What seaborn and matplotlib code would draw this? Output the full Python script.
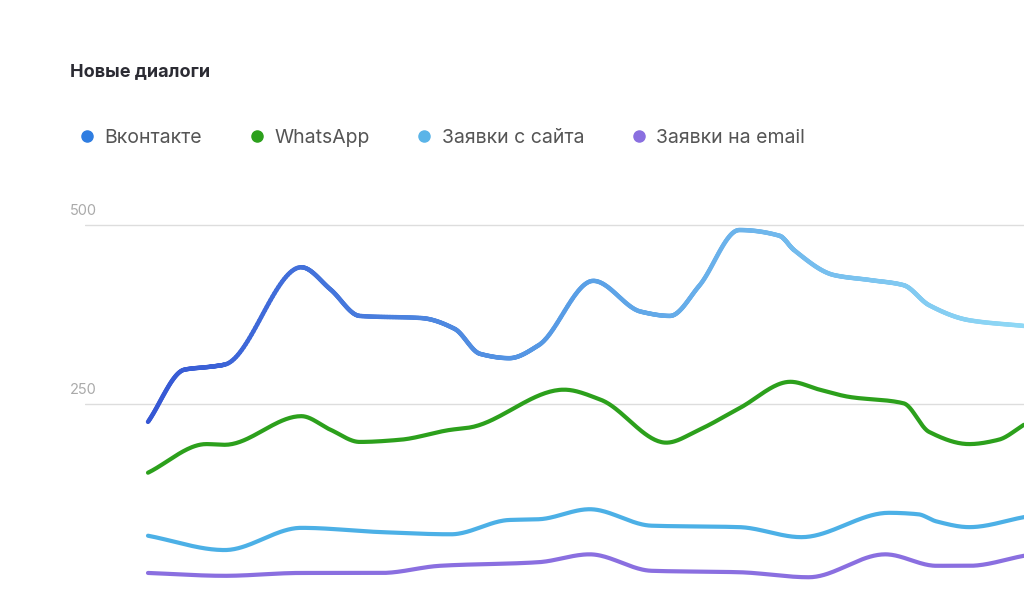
import numpy as np
import pandas as pd
import matplotlib
matplotlib.use("Agg")
import matplotlib.pyplot as plt
import seaborn as sns
from matplotlib.collections import LineCollection
from matplotlib.lines import Line2D

title = "Новые диалоги"
series_names = ["Вконтакте", "WhatsApp", "Заявки с сайта", "Заявки на email"]
dot_colors = ["#2f7de1", "#2ca01c", "#5ab4e8", "#8a6fe0"]
yticks = [250, 500]

vk_x = [0, 1.0, 1.7, 2.1, 4.2, 5.0, 5.8, 7.5, 8.4, 9.1, 9.9, 10.7, 12.2, 13.5, 14.3, 15.1, 16.2, 17.3, 17.7, 18.8, 19.8, 20.7, 21.4, 22.5, 24.0]
vk_y = [225, 298, 302, 305, 441, 410, 373, 370, 355, 320, 314, 332, 422, 379, 373, 415, 493, 485, 465, 430, 423, 416, 388, 367, 359]
wa_x = [0, 1.6, 2.1, 4.2, 5.0, 5.8, 6.9, 8.3, 8.8, 11.4, 12.4, 14.2, 15.1, 16.2, 17.6, 18.4, 19.2, 20.7, 21.4, 22.5, 23.3, 24.0]
wa_y = [154, 194, 193, 233, 214, 197, 200, 214, 217, 270, 256, 196, 214, 244, 281, 270, 260, 251, 211, 194, 200, 221]
site_x = [0, 2.1, 4.2, 6.4, 8.3, 9.9, 10.7, 12.1, 13.8, 16.2, 17.9, 20.3, 21.1, 21.6, 22.5, 24.0]
site_y = [66, 46, 77, 71, 68, 88, 89, 103, 80, 78, 64, 98, 96, 86, 78, 92]
mail_x = [0, 2.1, 4.2, 6.4, 8.0, 10.7, 12.1, 13.8, 16.2, 18.1, 20.2, 21.6, 22.5, 24.0]
mail_y = [14, 10, 14, 14, 24, 29, 40, 17, 15, 8, 40, 24, 24, 38]


def smooth(x, y, n=40):
    x = np.asarray(x, float); y = np.asarray(y, float)
    h = np.diff(x); d = np.diff(y) / h
    m = np.zeros_like(y)
    m[0], m[-1] = d[0], d[-1]
    for i in range(1, len(y) - 1):
        if d[i - 1] * d[i] <= 0:
            m[i] = 0
        else:
            w1 = 2 * h[i] + h[i - 1]; w2 = h[i] + 2 * h[i - 1]
            m[i] = (w1 + w2) / (w1 / d[i - 1] + w2 / d[i])
    xs, ys = [], []
    for i in range(len(h)):
        t = np.linspace(0, 1, n, endpoint=False)
        h00 = 2*t**3 - 3*t**2 + 1; h10 = t**3 - 2*t**2 + t
        h01 = -2*t**3 + 3*t**2; h11 = t**3 - t**2
        xs.append(x[i] + t*h[i])
        ys.append(h00*y[i] + h10*h[i]*m[i] + h01*y[i+1] + h11*h[i]*m[i+1])
    xs.append([x[-1]]); ys.append([y[-1]])
    return np.concatenate(xs), np.concatenate(ys)


sns.set_style("white")
plt.rcParams['font.family'] = ['Inter', 'DejaVu Sans']
fig = plt.figure(figsize=(10.24, 5.94), dpi=100)
ax = fig.add_axes([85/1024, 0, 939/1024, 434/594])
ax.set_xlim(-1.726, 24.0)
ax.set_ylim(-15.4, 590.8)

for v in yticks:
    ax.axhline(v, color="#dddddd", lw=1, zorder=0)
    ax.text(-15/939, v + 10, str(v), transform=ax.get_yaxis_transform(),
            color="#aaaaaa", fontsize=10.5, ha="left", va="bottom")

for xs_, ys_, c in [(wa_x, wa_y, "#2ca01c"), (site_x, site_y, "#4cb0e6"), (mail_x, mail_y, "#8a6fe0")]:
    sx, sy = smooth(xs_, ys_)
    df = pd.DataFrame({"x": sx, "y": sy})
    sns.lineplot(data=df, x="x", y="y", ax=ax, color=c, lw=3, sort=False, estimator=None)

sx, sy = smooth(vk_x, vk_y)
pts = np.column_stack([sx, sy]).reshape(-1, 1, 2)
segs = np.concatenate([pts[:-1], pts[1:]], axis=1)
cmap = matplotlib.colors.LinearSegmentedColormap.from_list("g", ["#3657d4", "#5aa0e6", "#8fd8f5"])
lc = LineCollection(segs, cmap=cmap, lw=3.2, capstyle="round")
lc.set_array(sx[:-1] / 24.0)
ax.add_collection(lc)

ax.set_xlabel(""); ax.set_ylabel("")
ax.set_xticks([]); ax.set_yticks([])
for s in ax.spines.values():
    s.set_visible(False)

fig.text(70/1024, 1 - 72/594, title, fontsize=13, fontweight="bold", color="#2b2b33", va="center")
handles = [Line2D([], [], marker="o", ls="", color=c, markersize=8) for c in dot_colors]
fig.legend(handles, series_names, loc="center left", bbox_to_anchor=(58/1024, 1 - 138/594),
           ncol=4, frameon=False, fontsize=14, labelcolor="#555555",
           handletextpad=0.3, columnspacing=2.2, handlelength=1.2)

fig.savefig("out.png", dpi=100)
